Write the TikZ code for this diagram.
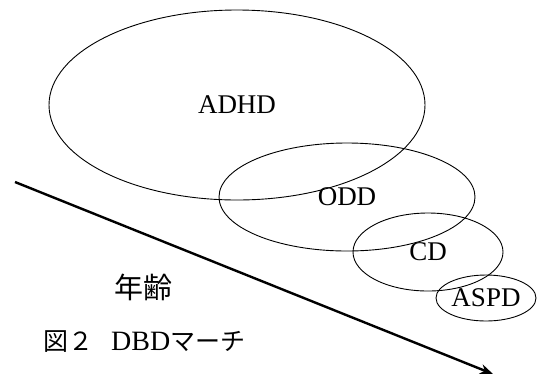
\documentclass[tikz,border=0pt]{standalone}
\usepackage{fontspec}
\setmainfont{Liberation Serif}
\newfontfamily\jpfont{Noto Sans CJK JP}
\usetikzlibrary{arrows.meta,shapes.geometric}
\begin{document}
\begin{tikzpicture}[x=1pt,y=-1pt,
  ell/.style={ellipse, draw, line width=0.9pt, inner sep=0pt, font=\fontsize{27}{27}\selectfont},
  agearrow/.style={line width=2.4pt, -{Stealth[length=13pt,width=10pt]}}]
\useasboundingbox[fill=white] (0,0) rectangle (537,376);
\node[ell, minimum width=376pt, minimum height=190pt] (adhd) at (237,105) {ADHD};
\node[ell, minimum width=256pt, minimum height=108pt] (odd) at (347,197) {ODD};
\node[ell, minimum width=150pt, minimum height=78pt] (cd) at (428,252) {CD};
\node[ell, minimum width=100pt, minimum height=46pt] (aspd) at (486,298) {ASPD};
\coordinate (s) at (15,182);
\coordinate (e) at (493,374);
\draw[agearrow] (s) -- (e);
\node[font=\jpfont\fontsize{29}{29}\selectfont, inner sep=0pt] (age) at (143,287) {年齢};
\node[anchor=west, inner sep=0pt, font=\fontsize{25}{25}\selectfont] (cap) at (43,342)
  {{\jpfont 図２}\hspace{18pt}{\fontsize{28}{28}\selectfont DBD}{\jpfont マーチ}};
\end{tikzpicture}
\end{document}
